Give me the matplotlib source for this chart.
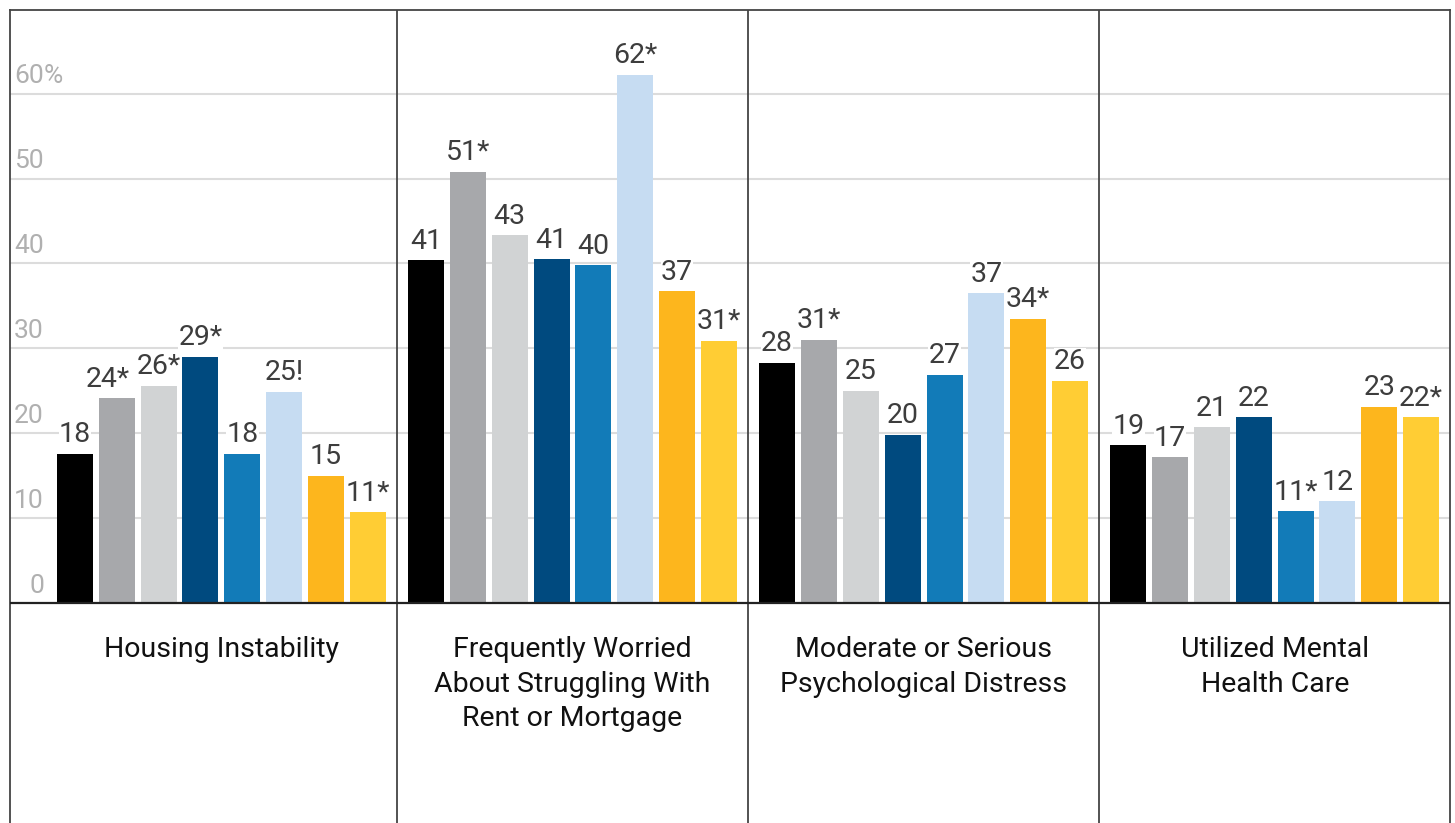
import matplotlib
matplotlib.use("Agg")
import matplotlib.pyplot as plt
import numpy as np

plt.rcParams['font.family'] = ['Roboto', 'DejaVu Sans']

categories = ['Housing Instability',
              'Frequently Worried\nAbout Struggling With\nRent or Mortgage',
              'Moderate or Serious\nPsychological Distress',
              'Utilized Mental\nHealth Care']

values = [
    [17.6, 24.1, 25.6, 29.0, 17.6, 24.9, 15.0, 10.7],
    [40.4, 50.8, 43.3, 40.5, 39.8, 62.2, 36.7, 30.9],
    [28.3, 31.0, 25.0, 19.8, 26.9, 36.5, 33.5, 26.2],
    [18.6, 17.2, 20.7, 21.9, 10.8, 12.0, 23.1, 21.9],
]
labels = [
    ['18', '24*', '26*', '29*', '18', '25!', '15', '11*'],
    ['41', '51*', '43', '41', '40', '62*', '37', '31*'],
    ['28', '31*', '25', '20', '27', '37', '34*', '26'],
    ['19', '17', '21', '22', '11*', '12', '23', '22*'],
]
yticks = [0, 10, 20, 30, 40, 50, 60]
colors = ['#000000', '#a7a8ab', '#d1d3d4', '#004a7f',
          '#127bb8', '#c6dcf2', '#fdb61d', '#ffcd34']

W, H = 1455, 823
fig = plt.figure(figsize=(W / 100, H / 100), dpi=100)
ax = fig.add_axes([10 / W, 0, 1440 / W, (H - 10) / H])

pitch = 41.85      # px per bar slot
ppu = 8.49         # px per percentage point
x0 = 1.55
gstep = 8.39
xmax = 1440 / pitch

ax.set_xlim(0, xmax)
ax.set_ylim(-(H - 603) / ppu, (603 - 10) / ppu)

# grid
ax.hlines(yticks[1:], 0, xmax, color='#dcdcdc', lw=1.5, zorder=0)
ax.axhline(0, color='#222222', lw=1.6, zorder=3)

for g in range(4):
    xs = x0 + g * gstep + np.arange(8)
    ax.bar(xs, values[g], width=0.86, color=colors, zorder=2)
    for i, (xi, v, lab) in enumerate(zip(xs, values[g], labels[g])):
        dx = -0.22 if (g, i) == (0, 1) else 0   # crowded label nudged left
        ax.text(xi + dx, v + 1.35, lab, ha='center', va='baseline', fontsize=20.5,
                color='#3d3d3d', zorder=4,
                bbox=dict(facecolor='white', edgecolor='none', pad=0.3))
    ax.text(x0 + g * gstep + 3.5, -3.9, categories[g], ha='center', va='top',
            fontsize=20.5, color='#111111', linespacing=1.36)
    if g > 0:
        ax.axvline(x0 + g * gstep - (gstep - 7) / 2, color='#444444', lw=1.3)

for t in yticks:
    ax.text(0.81, t + 1.2, str(t), ha='right', va='baseline', fontsize=19,
            color='#b0b0b0', zorder=1)
ax.text(0.81, yticks[-1] + 1.2, '%', ha='left', va='baseline', fontsize=19,
        color='#b0b0b0', zorder=1)

for s in ['top', 'left', 'right']:
    ax.spines[s].set_color('#444444')
    ax.spines[s].set_linewidth(1.3)
ax.spines['bottom'].set_visible(False)
ax.set_xticks([])
ax.set_yticks([])

fig.savefig('out.png', dpi=100, facecolor='white')
